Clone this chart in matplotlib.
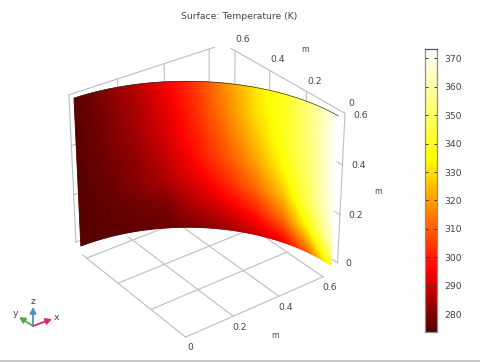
import numpy as np
import matplotlib
matplotlib.use("Agg")
import matplotlib.pyplot as plt
from matplotlib.colors import LinearSegmentedColormap

ticks = [0, 0.2, 0.4, 0.6]
tick_labels = ["0", "0.2", "0.4", "0.6"]
cbar_ticks = [280, 290, 300, 310, 320, 330, 340, 350, 360, 370]
t_min, t_max = 273.15, 373.15

theta_deg = [0, 10, 20, 30, 40, 50, 60, 70, 80, 90]
z_levels = [0, 0.1, 0.2, 0.3, 0.4, 0.5, 0.6]
temps_z00 = [340, 312, 294, 288, 283, 279, 276.5, 275.5, 274.5, 274]
temps_z01 = [365, 335, 313, 300, 292, 286, 279, 277, 275, 274]
temps_z02 = [371, 349, 326, 312, 301, 292, 285, 280, 276, 274]
temps_z03 = [372, 352, 335, 320, 308, 297, 288, 281, 277, 274]
temps_z04 = [373, 354, 339, 326, 312, 300, 290, 283, 278, 274]
temps_z05 = [373, 355, 340, 330, 316, 302, 292, 284, 278.5, 274]
temps_z06 = [373, 356, 341, 332, 318, 304, 294, 285.5, 279.5, 274]
temps = [temps_z00, temps_z01, temps_z02, temps_z03, temps_z04, temps_z05, temps_z06]

radius = 0.636
text_color = "#444444"
grid_color = "#bdbdbd"

cmap = LinearSegmentedColormap.from_list("heat", [
    (0.0, "#500000"), (0.22, "#ff0000"), (0.615, "#ffff00"), (1.0, "#ffffff")])

W, H = 481, 362
fig = plt.figure(figsize=(W / 100, H / 100), dpi=100)

# 3D view, camera fitted to the corners of the picture
side = 412.4
ax = fig.add_axes([-6.6 / W, -25.5 / H, side / W, side / H], projection="3d", computed_zorder=False)
ax.set_xlim(-0.1, 0.75)
ax.set_ylim(-0.1, 0.75)
ax.set_zlim(-0.1, 0.75)
ax.set_box_aspect((1, 1, 0.996))
ax.view_init(elev=30.2, azim=-126.85)
ax.set_proj_type("persp", focal_length=0.721)
ax.set_axis_off()

# floor and the two back walls are drawn a little apart, like in the original
z0 = -0.033
xr = 0.666
yl = 0.668
ext = 0.025
grid = dict(color=grid_color, lw=0.8, zorder=1)
for t in ticks:
    ax.plot([t, t], [0, 0.6 + ext], [z0, z0], **grid)
    ax.plot([0, 0.6], [t, t], [z0, z0], **grid)
    ax.plot([xr, xr], [t, t], [0, 0.6], **grid)
    ax.plot([xr, xr], [0, 0.6 + ext], [t, t], **grid)
    ax.plot([t, t], [yl, yl], [0, 0.6], **grid)
    ax.plot([0, 0.6 + ext], [yl, yl], [t, t], **grid)

# wall, table values shaded across each cell
th_fine = np.linspace(0, 90, 181)
z_fine = np.linspace(0, 0.6, 61)
t_rows = np.array([np.interp(th_fine, theta_deg, row) for row in temps])
t_fine = np.array([np.interp(z_fine, z_levels, col) for col in t_rows.T]).T
TH, ZZ = np.meshgrid(np.radians(th_fine), z_fine)
colors = cmap((t_fine - t_min) / (t_max - t_min))
ax.plot_surface(radius * np.cos(TH), radius * np.sin(TH), ZZ, facecolors=colors,
                rstride=1, cstride=1, shade=False, antialiased=True, linewidth=0.6, zorder=2)
arc = np.radians(th_fine)
ax.plot(radius * np.cos(arc), radius * np.sin(arc), 0.6 + 0 * arc, color="#333333", lw=0.5, zorder=3)

# colorbar
cax = fig.add_axes([425 / W, 1 - 332 / H, 12 / W, 283 / H])
levels = np.linspace(t_min, t_max, 256)
cax.imshow(levels[:, None], origin="lower", aspect="auto", cmap=cmap, vmin=t_min, vmax=t_max,
           extent=[0, 1, 273.7, 373.3])
cax.set_xticks([])
cax.set_yticks(cbar_ticks)
cax.tick_params(axis="y", left=True, right=True, labelleft=False, labelright=True, direction="in",
                length=2, width=0.7, color="#333333", labelsize=6.7, labelcolor=text_color, pad=5)
for s in cax.spines.values():
    s.set_color("#8c8c8c")
    s.set_linewidth(0.9)
cax.spines["top"].set_color("#555555")

# overlay in pixels for the labels and the triad
ov = fig.add_axes([0, 0, 1, 1])
ov.set_xlim(0, W)
ov.set_ylim(H, 0)
ov.axis("off")
ov.patch.set_alpha(0)

ov.text(239.5, 16.5, "Surface: Temperature (K)", fontsize=6.7, color=text_color, ha="center", va="center")

x_label_pos = [(190, 348), (240, 327), (286, 307), (330, 287)]
y_label_pos = [(351, 104), (315, 81), (278, 60), (243, 40)]
z_label_pos = [(348, 264), (356, 216), (359, 166), (361, 115)]
for lab, a, b, c in zip(tick_labels, x_label_pos, y_label_pos, z_label_pos):
    for pos in (a, b, c):
        ov.text(pos[0], pos[1], lab, fontsize=6.7, color=text_color, ha="center", va="center")
for pos in [(275, 335), (305, 50), (378, 191)]:
    ov.text(pos[0], pos[1], "m", fontsize=5.6, color=text_color, ha="center", va="center")

# coordinate triad
origin = (33, 326)
for tip, col in [((33, 307), "#4f8fca"), ((52, 319), "#e0246a"), ((19, 317), "#55a84f")]:
    ov.annotate("", xy=tip, xytext=origin,
                arrowprops=dict(arrowstyle="-|>,head_length=0.35,head_width=0.18", color=col, lw=1.3,
                                shrinkA=0, shrinkB=0))
for name, pos in [("z", (33, 301)), ("x", (56, 317)), ("y", (15, 313))]:
    ov.text(pos[0], pos[1], name, fontsize=6.7, color=text_color, ha="center", va="center")

# grey rule along the bottom
ov.axhline(360.5, color="#c8c8c8", lw=1.5)

fig.savefig("out.png", dpi=100)
